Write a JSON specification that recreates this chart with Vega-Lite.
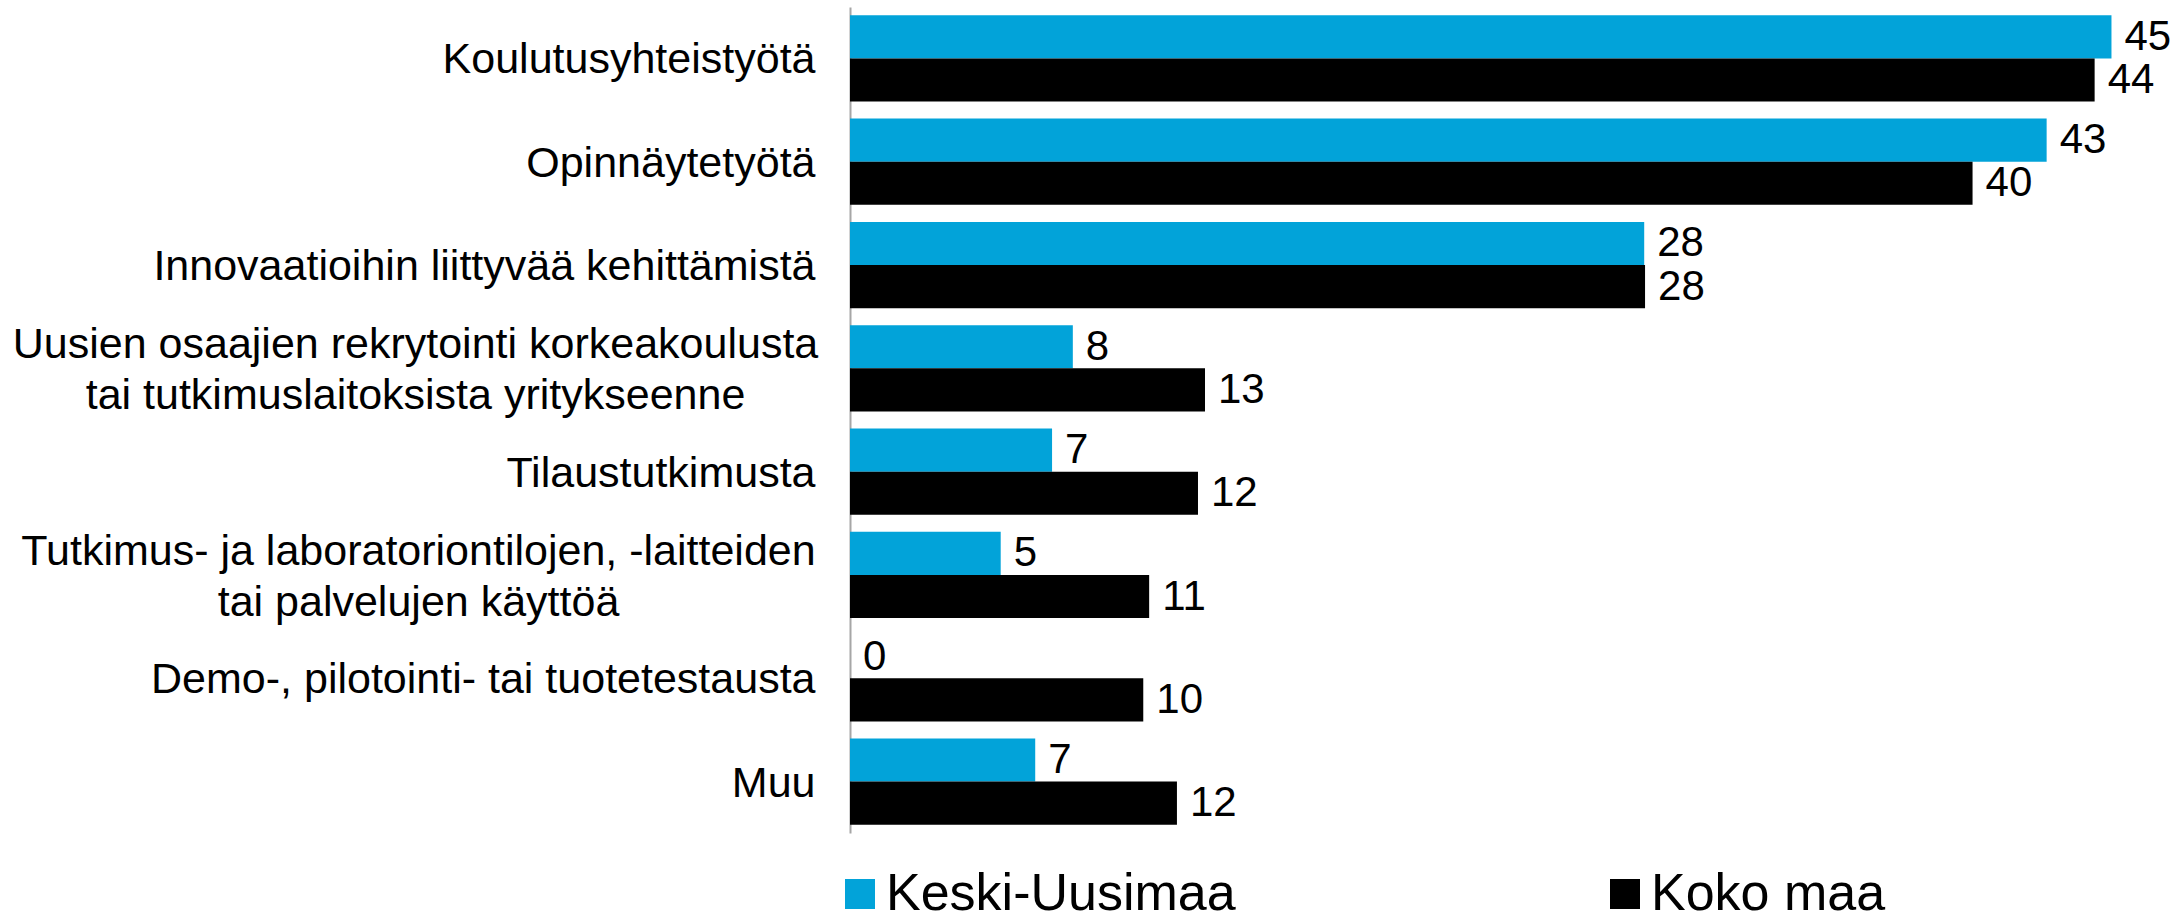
{
  "$schema": "https://vega.github.io/schema/vega-lite/v6.json",
  "autosize": {"type": "none"},
  "padding": {"left": 850, "top": 7, "right": 10, "bottom": 85},
  "width": 1319,
  "height": 826,
  "background": "white",
  "config": {
    "view": {"stroke": null},
    "font": "Liberation Sans"
  },
  "data": {
    "values": [
      {"cat": "Koulutusyhteistyötä", "series": "Keski-Uusimaa", "value": 44.95},
      {"cat": "Koulutusyhteistyötä", "series": "Koko maa", "value": 44.35},
      {"cat": "Opinnäytetyötä", "series": "Keski-Uusimaa", "value": 42.64},
      {"cat": "Opinnäytetyötä", "series": "Koko maa", "value": 40.0},
      {"cat": "Innovaatioihin liittyvää kehittämistä", "series": "Keski-Uusimaa", "value": 28.3},
      {"cat": "Innovaatioihin liittyvää kehittämistä", "series": "Koko maa", "value": 28.33},
      {"cat": "Uusien osaajien rekrytointi korkeakoulusta|tai tutkimuslaitoksista yritykseenne", "series": "Keski-Uusimaa", "value": 7.94},
      {"cat": "Uusien osaajien rekrytointi korkeakoulusta|tai tutkimuslaitoksista yritykseenne", "series": "Koko maa", "value": 12.65},
      {"cat": "Tilaustutkimusta", "series": "Keski-Uusimaa", "value": 7.2},
      {"cat": "Tilaustutkimusta", "series": "Koko maa", "value": 12.4},
      {"cat": "Tutkimus- ja laboratoriontilojen, -laitteiden|tai  palvelujen käyttöä", "series": "Keski-Uusimaa", "value": 5.37},
      {"cat": "Tutkimus- ja laboratoriontilojen, -laitteiden|tai  palvelujen käyttöä", "series": "Koko maa", "value": 10.66},
      {"cat": "Demo-, pilotointi- tai tuotetestausta", "series": "Keski-Uusimaa", "value": 0},
      {"cat": "Demo-, pilotointi- tai tuotetestausta", "series": "Koko maa", "value": 10.45},
      {"cat": "Muu", "series": "Keski-Uusimaa", "value": 6.6},
      {"cat": "Muu", "series": "Koko maa", "value": 11.65}
    ]
  },
  "encoding": {
    "y": {
      "field": "cat",
      "type": "nominal",
      "sort": null,
      "title": null,
      "scale": {"paddingInner": 0.165, "paddingOuter": 0.08},
      "axis": {
        "ticks": false,
        "domain": true,
        "domainColor": "#a6a6a6",
        "domainWidth": 2,
        "labelFontSize": 43,
        "labelColor": "#000000",
        "labelFont": "Liberation Sans",
        "labelLimit": 0,
        "labelLineHeight": 51,
        "labelExpr": "split(datum.label, '|')",
        "labelAlign": {"condition": {"test": "indexof(datum.value, '|') >= 0", "value": "center"}, "value": "right"},
        "labelOffset": {"condition": {"test": "indexof(datum.value, '|') >= 0", "value": -23}, "value": 2},
        "labelPadding": {"condition": [{"test": "indexof(datum.value, 'Uusien') === 0", "value": 435}, {"test": "indexof(datum.value, 'Tutkimus-') === 0", "value": 432}], "value": 35}
      }
    },
    "yOffset": {"field": "series", "type": "nominal", "sort": ["Keski-Uusimaa", "Koko maa"]},
    "x": {
      "field": "value",
      "type": "quantitative",
      "scale": {"domain": [0, 47], "nice": false},
      "axis": null
    }
  },
  "layer": [
    {
      "mark": {"type": "bar"},
      "encoding": {
        "color": {
          "field": "series",
          "type": "nominal",
          "scale": {"domain": ["Keski-Uusimaa", "Koko maa"], "range": ["#02a3d9", "#000000"]},
          "legend": {
            "title": null,
            "orient": "none",
            "direction": "horizontal",
            "legendX": -16,
            "legendY": 861,
            "padding": 0,
            "symbolType": "square",
            "symbolSize": 900,
            "symbolStrokeWidth": 0,
            "labelFontSize": 52,
            "labelFont": "Liberation Sans",
            "labelColor": "#000000",
            "labelOffset": 0,
            "labelLimit": 0,
            "columnPadding": 363
          }
        }
      }
    },
    {
      "mark": {"type": "text", "align": "left", "baseline": "middle", "dx": 13, "fontSize": 42, "color": "#000000", "font": "Liberation Sans"},
      "encoding": {
        "text": {"field": "value", "type": "quantitative", "format": ".0f"}
      }
    }
  ]
}
